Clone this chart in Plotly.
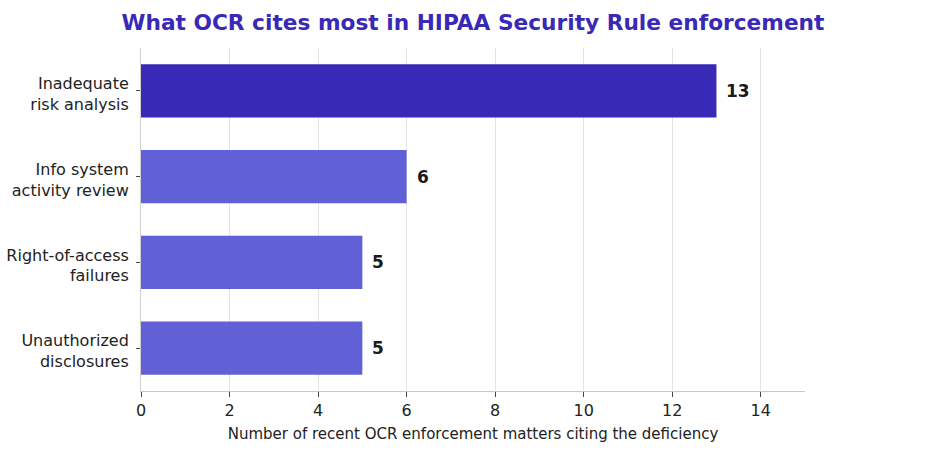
import plotly.graph_objects as go

categories = ["Inadequate<br>risk analysis", "Info system<br>activity review",
              "Right-of-access<br>failures", "Unauthorized<br>disclosures"]
values = [13, 6, 5, 5]
colors = ["#3829B6", "#6160D6", "#6160D6", "#6160D6"]
x_ticks = [0, 2, 4, 6, 8, 10, 12, 14]

fig = go.Figure()
fig.add_trace(go.Bar(
    y=categories, x=values, orientation="h",
    marker=dict(color=colors, line=dict(width=0)),
    width=0.62, hoverinfo="skip",
))
for c, v in zip(categories, values):
    fig.add_annotation(x=v, y=c, text=f"<b>{v}</b>", showarrow=False,
                       xanchor="left", yanchor="middle", xshift=8,
                       font=dict(family="DejaVu Sans", size=17, color="#1a1a1a"))
fig.update_layout(
    width=929, height=454,
    margin=dict(l=141, r=124, t=48, b=63, autoexpand=False),
    paper_bgcolor="white", plot_bgcolor="white",
    font=dict(family="DejaVu Sans", size=15, color="#222222"),
    title=dict(text="<b>What OCR cites most in HIPAA Security Rule enforcement</b>",
               x=0.5, xref="paper", xanchor="center", y=0.951, yanchor="middle",
               font=dict(family="DejaVu Sans", size=21.7, color="#3829B6")),
    showlegend=False, bargap=0.38,
)
fig.update_xaxes(range=[0, 15], tickvals=x_ticks, showgrid=True, gridcolor="#e3e3e3",
                 showline=True, linecolor="#c8c8c8", ticks="outside", ticklen=5,
                 tickcolor="#444444", zeroline=False, automargin=False,
                 title=dict(text="Number of recent OCR enforcement matters citing the deficiency",
                            font=dict(size=15), standoff=9),
                 tickfont=dict(size=16))
fig.update_yaxes(showline=True, linecolor="#d0d0d0", automargin=False,
                 ticks="outside", ticklen=4, tickcolor="#444444", showgrid=False,
                 tickfont=dict(size=16), range=[3.5, -0.5], ticklabelstandoff=4,
                 ticklabelshift=-3)
fig.write_html("out.html")
